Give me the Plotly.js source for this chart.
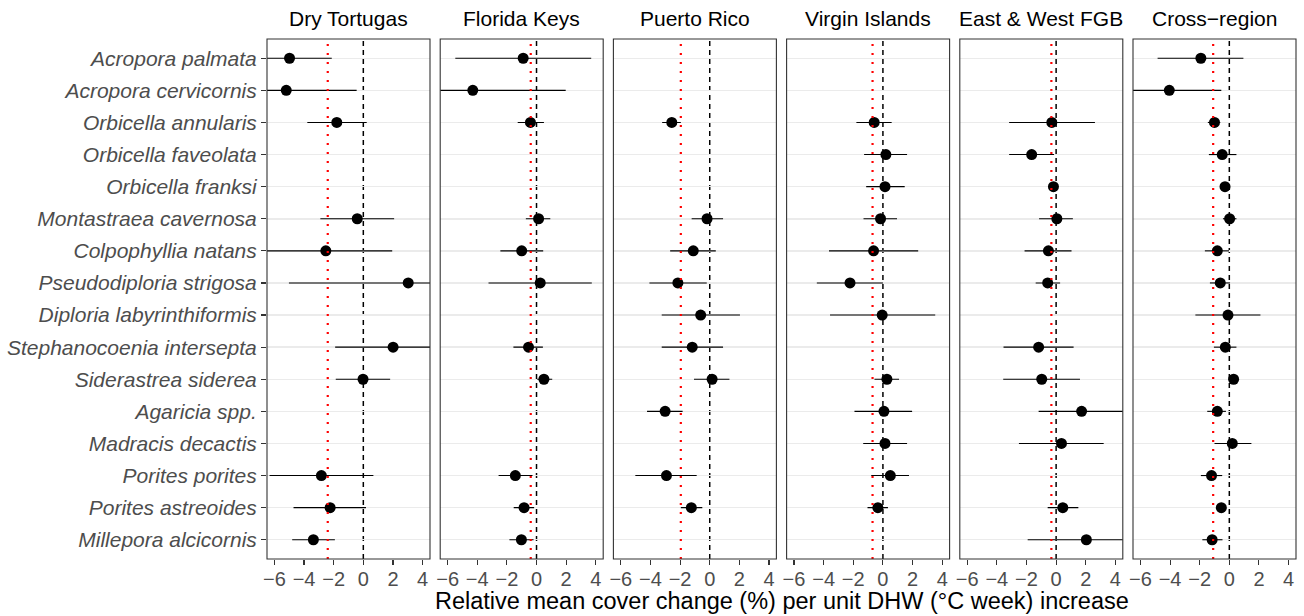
<!DOCTYPE html>
<html>
<head>
<meta charset="utf-8">
<script src="https://cdn.plot.ly/plotly-3.0.1.min.js"></script>
<style>html,body{margin:0;padding:0;background:#fff;}#chart{width:1304px;height:616px;}</style>
</head>
<body>
<div id="chart"></div>
<script>
const species = ["Acropora palmata","Acropora cervicornis","Orbicella annularis","Orbicella faveolata","Orbicella franksi","Montastraea cavernosa","Colpophyllia natans","Pseudodiploria strigosa","Diploria labyrinthiformis","Stephanocoenia intersepta","Siderastrea siderea","Agaricia spp.","Madracis decactis","Porites porites","Porites astreoides","Millepora alcicornis"];
const regions = ["Dry Tortugas","Florida Keys","Puerto Rico","Virgin Islands","East & West FGB","Cross\u2212region"];
const regionMeanLine = [-2.40,-0.39,-1.95,-0.70,-0.32,-1.09];
const xTickVals = [-6,-4,-2,0,2,4];

const dtMean = [-4.98,-5.20,-1.79,null,null,-0.41,-2.53,3.03,null,2.01,-0.02,null,null,-2.83,-2.24,-3.37];
const dtLo   = [-8.0,-8.5,-3.78,null,null,-2.90,-6.8,-5.02,null,-1.90,-1.86,null,null,-6.33,-4.71,-4.80];
const dtHi   = [-2.13,-0.45,0.23,null,null,2.08,1.95,9.0,null,6.0,1.81,null,null,0.68,0.18,-1.92];

const fkMean = [-0.90,-4.30,-0.41,null,null,0.14,-1.00,0.25,null,-0.54,0.50,null,null,-1.43,-0.84,-1.02];
const fkLo   = [-5.48,-7.5,-1.27,null,null,-0.72,-2.44,-3.24,null,-1.56,0.05,null,null,-2.56,-1.54,-1.83];
const fkHi   = [3.69,1.97,0.50,null,null,0.93,0.45,3.73,null,0.43,1.06,null,null,-0.27,-0.16,-0.20];

const prMean = [null,null,-2.56,null,null,-0.18,-1.11,-2.15,-0.61,-1.18,0.16,-3.01,null,-2.92,-1.24,null];
const prLo   = [null,null,-3.21,null,null,-1.22,-2.67,-4.07,-3.24,-3.24,-1.06,-4.23,null,-5.02,-1.95,null];
const prHi   = [null,null,-1.95,null,null,0.90,0.41,-0.20,2.04,0.90,1.33,-1.83,null,-0.88,-0.50,null];

const viMean = [null,null,-0.59,0.20,0.14,-0.16,-0.63,-2.22,-0.05,null,0.27,0.07,0.14,0.50,-0.34,null];
const viLo   = [null,null,-1.79,-1.27,-1.13,-1.31,-3.64,-4.46,-3.57,null,-0.57,-1.92,-1.33,-0.79,-1.04,null];
const viHi   = [null,null,0.59,1.63,1.47,0.95,2.38,0.00,3.53,null,1.09,1.97,1.63,1.76,0.34,null];

const fgbMean = [null,null,-0.29,-1.65,-0.18,0.05,-0.52,-0.57,null,-1.18,-0.97,1.72,0.36,null,0.45,2.04];
const fgbLo   = [null,null,-3.17,-3.17,-0.40,-1.15,-2.13,-1.38,null,-3.55,-3.57,-1.18,-2.51,null,-0.57,-1.92];
const fgbHi   = [null,null,2.62,-0.14,0.05,1.13,1.04,0.27,null,1.18,1.61,5.5,3.21,null,1.50,6.0];

const crMean = [-1.92,-4.05,-1.00,-0.48,-0.29,0.02,-0.81,-0.61,-0.09,-0.27,0.29,-0.81,0.20,-1.20,-0.54,-1.16];
const crLo   = [-4.84,-7.0,-1.45,-1.38,-0.45,-0.43,-1.65,-1.31,-2.29,-1.04,0.10,-1.49,-1.00,-1.92,-0.75,-1.82];
const crHi   = [0.95,-0.54,-0.61,0.48,-0.10,0.48,-0.02,0.05,2.10,0.48,0.50,-0.23,1.49,-0.48,-0.30,-0.46];

const series = [
  [dtMean, dtLo, dtHi],
  [fkMean, fkLo, fkHi],
  [prMean, prLo, prHi],
  [viMean, viLo, viHi],
  [fgbMean, fgbLo, fgbHi],
  [crMean, crLo, crHi]
];

const W = 1304, H = 616;
const mL = 267, mR = 8, mT = 39, mB = 57;
const plotW = W - mL - mR;
const plotH = H - mT - mB;
const panelW = 163, panelStep = 173.2;
const FONT = "Liberation Sans, Arial, Helvetica, sans-serif";

const traces = [];
const layout = {
  width: W, height: H,
  margin: {l: mL, r: mR, t: mT, b: mB, pad: 0},
  paper_bgcolor: "#fff", plot_bgcolor: "#fff",
  showlegend: false,
  font: {family: FONT, color: "#000"},
  shapes: [], annotations: [],
  yaxis: {
    type: "category", categoryorder: "array", categoryarray: species,
    range: [species.length - 1 + 0.6, -0.6],
    showgrid: true, gridcolor: "#EBEBEB", gridwidth: 1.5,
    zeroline: false, showline: false,
    ticks: "outside", ticklen: 5, tickwidth: 1.1, tickcolor: "#333",
    tickfont: {family: FONT, size: 21, color: "#4D4D4D", style: "italic"},
    anchor: "x", fixedrange: true
  }
};

regions.forEach((r, i) => {
  const ax = i === 0 ? "x" : "x" + (i + 1);
  const axKey = i === 0 ? "xaxis" : "xaxis" + (i + 1);
  const d0 = (i * panelStep) / plotW;
  const d1 = Math.min(1, (i * panelStep + panelW) / plotW);
  layout[axKey] = {
    domain: [d0, d1], range: [-6.5, 4.5], anchor: "y",
    tickvals: xTickVals, ticktext: xTickVals.map(v => v < 0 ? "\u2212" + Math.abs(v) : String(v)),
    ticks: "outside", ticklen: 5, tickwidth: 1.1, tickcolor: "#333",
    ticklabelstandoff: -3,
    tickfont: {family: FONT, size: 20, color: "#4D4D4D"},
    showgrid: false, zeroline: false, showline: false, fixedrange: true
  };
  const [m, lo, hi] = series[i];
  const plus = m.map((v, k) => v === null ? null : hi[k] - v);
  const minus = m.map((v, k) => v === null ? null : v - lo[k]);
  traces.push({
    type: "scatter", mode: "markers", xaxis: ax, yaxis: "y",
    x: m, y: species,
    marker: {color: "#000", size: 11},
    error_x: {type: "data", symmetric: false, array: plus, arrayminus: minus, width: 0, thickness: 1.1, color: "#000"},
    hoverinfo: "x+y"
  });
  // zero line
  layout.shapes.push({type: "line", xref: ax, yref: "paper", x0: 0, x1: 0, y0: 0, y1: 1,
    line: {color: "#000", width: 1.5, dash: "5px,4px"}, layer: "below"});
  // regional mean line
  layout.shapes.push({type: "line", xref: ax, yref: "paper", x0: regionMeanLine[i], x1: regionMeanLine[i], y0: 0, y1: 1,
    line: {color: "#FF0000", width: 2.2, dash: "2px,7px"}, layer: "above"});
  // panel border
  layout.shapes.push({type: "rect", xref: "paper", yref: "paper", x0: d0, x1: d1, y0: 0, y1: 1,
    line: {color: "#333", width: 1.1}, layer: "above"});
  // strip title
  layout.annotations.push({text: r, xref: "paper", yref: "paper", x: (d0 + d1) / 2, y: 1,
    xanchor: "center", yanchor: "bottom", yshift: 7, showarrow: false,
    font: {family: FONT, size: 21, color: "#000"}});
});

layout.annotations.push({
  text: "Relative mean cover change (%) per unit DHW (\u00B0C week) increase",
  xref: "paper", yref: "paper", x: 0.5, y: -56.5 / plotH,
  xanchor: "center", yanchor: "bottom", showarrow: false,
  font: {family: FONT, size: 23.5, color: "#000"}
});

Plotly.newPlot("chart", traces, layout, {displayModeBar: false, staticPlot: true});
</script>
</body>
</html>
